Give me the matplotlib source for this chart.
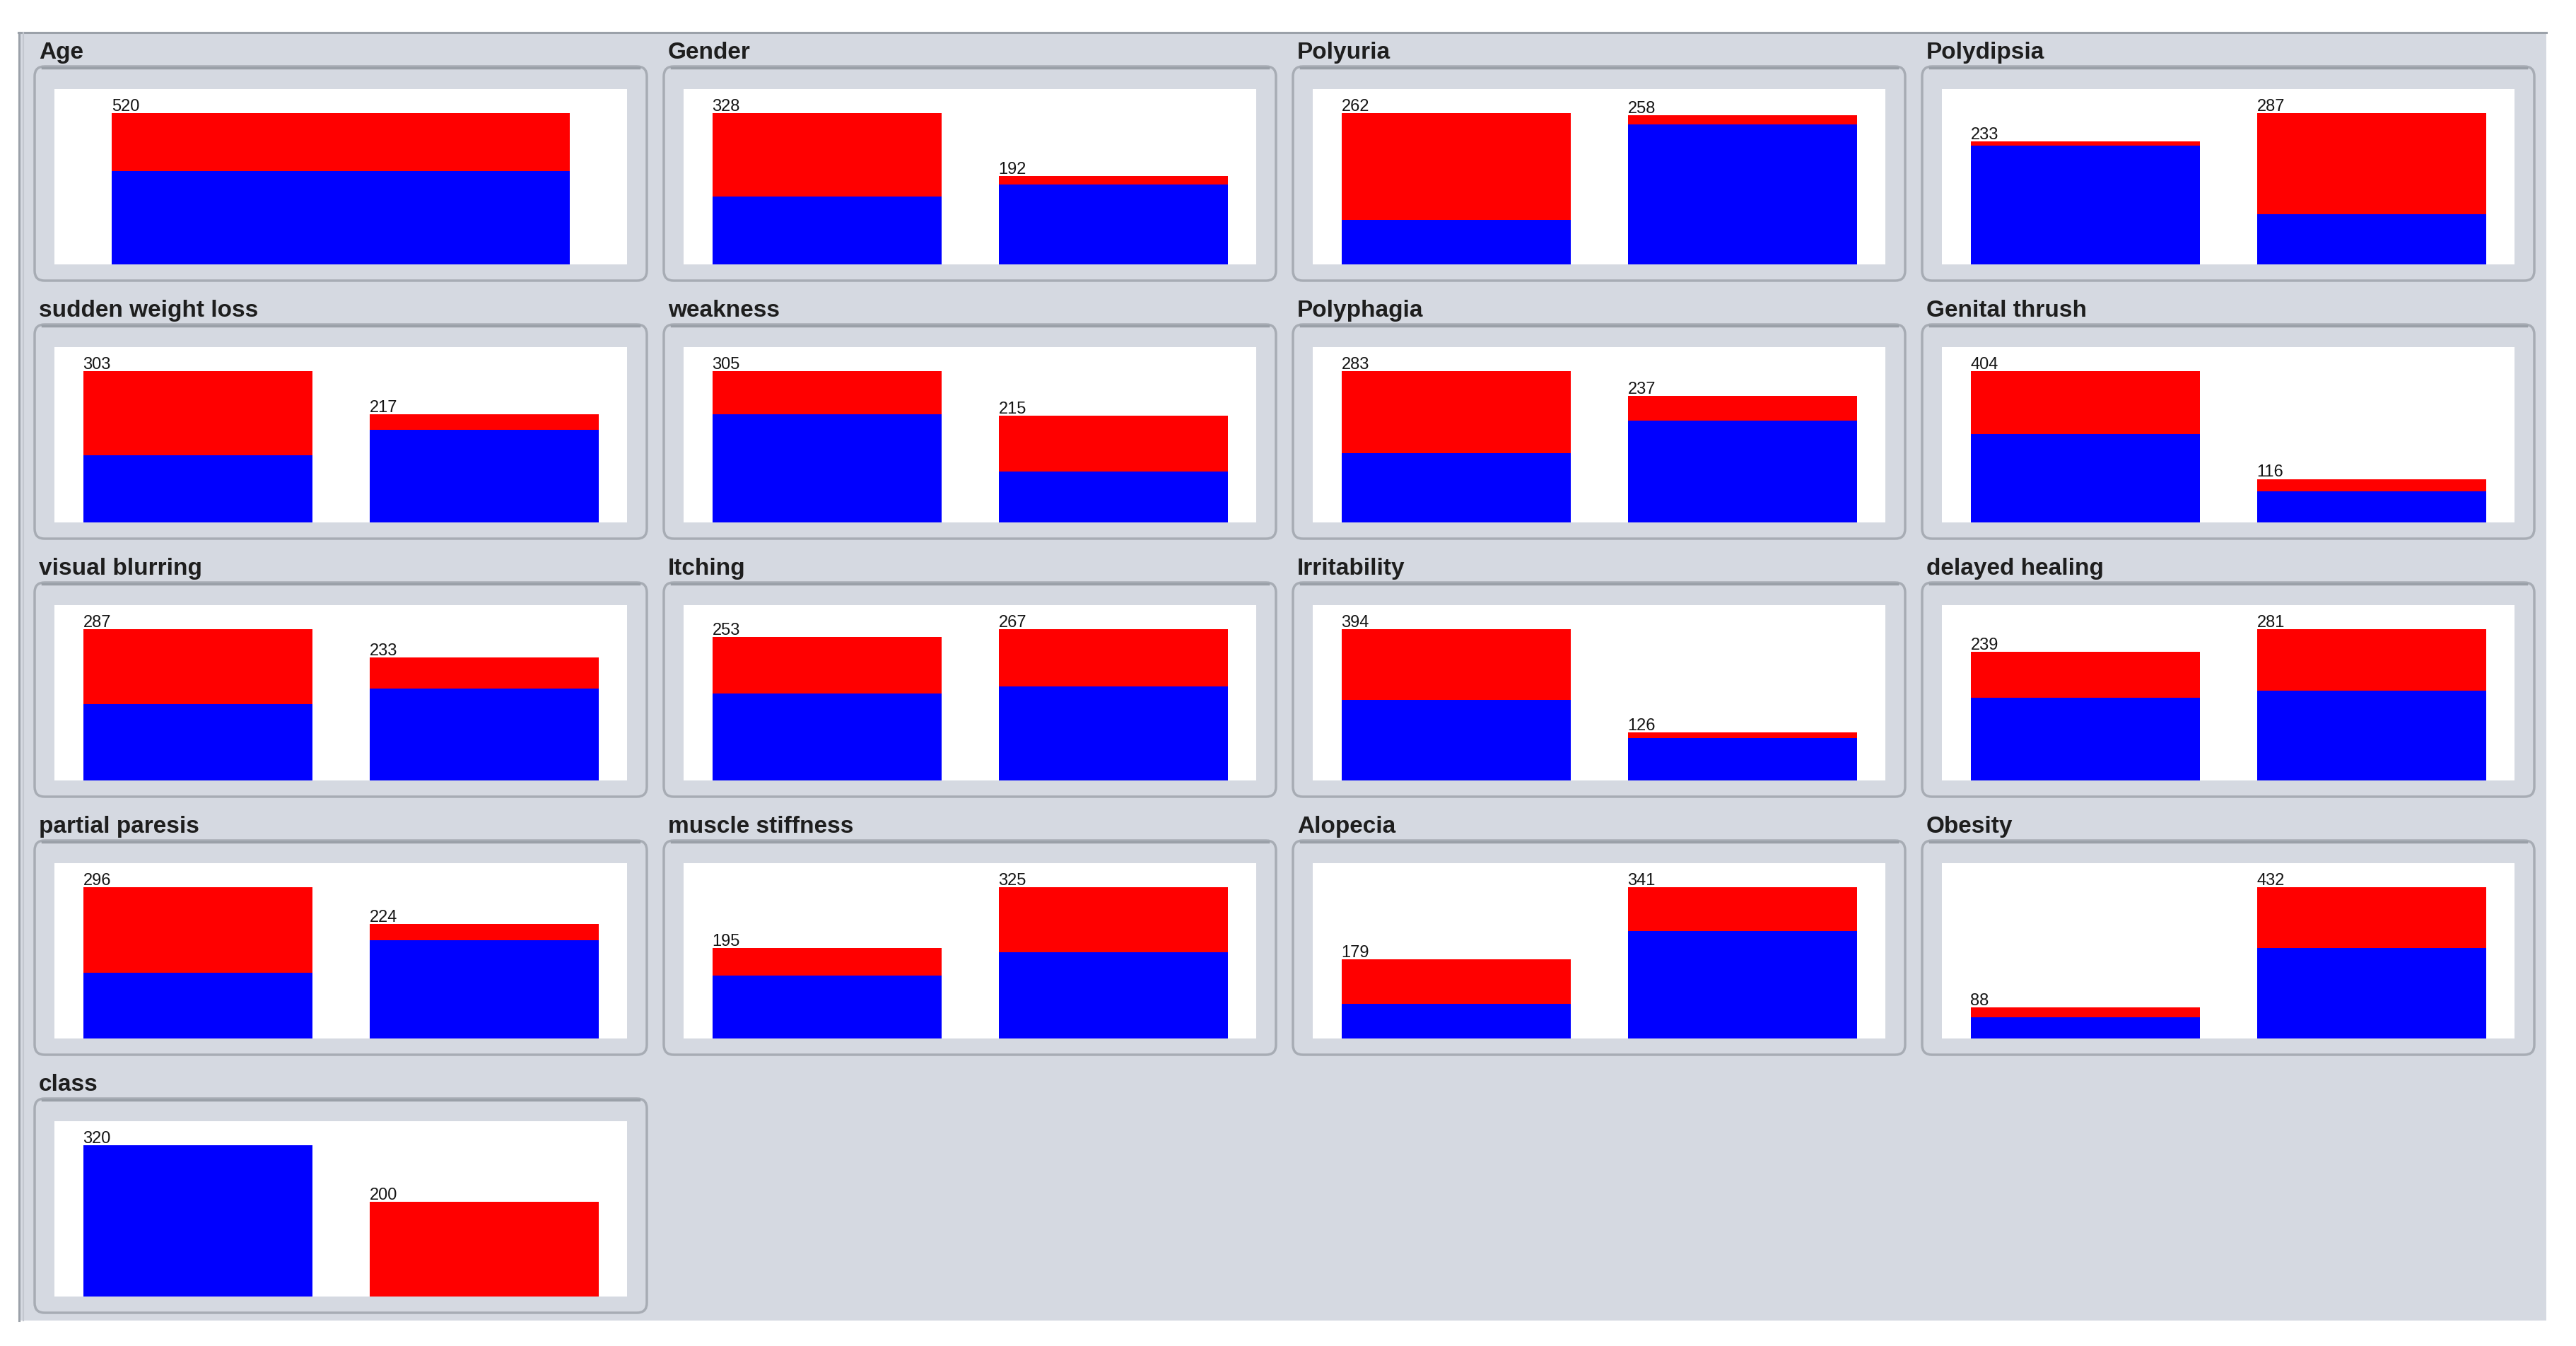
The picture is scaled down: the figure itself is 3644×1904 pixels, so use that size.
import matplotlib
matplotlib.use("Agg")
import matplotlib.pyplot as plt
import matplotlib.transforms as mtransforms
from matplotlib.patches import FancyBboxPatch, Rectangle

W, H = 3644, 1904

# attribute names, in panel order (4 columns)
attributes = [
    "Age", "Gender", "Polyuria", "Polydipsia",
    "sudden weight loss", "weakness", "Polyphagia", "Genital thrush",
    "visual blurring", "Itching", "Irritability", "delayed healing",
    "partial paresis", "muscle stiffness", "Alopecia", "Obesity",
    "class",
]

# class counts per bar: blue = Positive, red = Negative
positive = [
    [320], [147, 173], [77, 243], [225, 95],
    [134, 186], [218, 102], [130, 190], [236, 84],
    [145, 175], [154, 166], [210, 110], [153, 167],
    [128, 192], [135, 185], [78, 242], [61, 259],
    [320, 0],
]
negative = [
    [200], [181, 19], [185, 15], [8, 192],
    [169, 31], [87, 113], [153, 47], [168, 32],
    [142, 58], [99, 101], [184, 16], [86, 114],
    [168, 32], [60, 140], [101, 99], [27, 173],
    [0, 200],
]

BG = "#d5d9e1"
BLUE = "#0000ff"
RED = "#ff0000"

fig = plt.figure(figsize=(W / 100, H / 100), dpi=100)
fig.patch.set_facecolor("white")
px = mtransforms.IdentityTransform()


def fig_rect(x0, y0, x1, y1):
    # pixel box (top-left origin) -> display coords
    return x0, H - y1, x1 - x0, y1 - y0


# grey panel background
x, y, w, h = fig_rect(26, 46, 3602, 1868)
fig.patches.append(Rectangle((x, y), w, h, transform=px, facecolor=BG,
                             edgecolor="none", zorder=0))
fig.add_artist(plt.Line2D([26, 3602], [H - 46, H - 46], transform=px,
                          color="#9ba1a9", lw=2.2))
fig.add_artist(plt.Line2D([27, 27], [H - 46, H - 1868], transform=px,
                          color="#9ba1a9", lw=2.2))
fig.add_artist(plt.Line2D([33, 33], [H - 46, H - 1868], transform=px,
                          color="#c3c7cf", lw=1.5))

for i, name in enumerate(attributes):
    r, c = divmod(i, 4)
    dx, dy = 890 * c, 365 * r

    # rounded frame around the plot
    x, y, w, h = fig_rect(49 + dx, 94 + dy, 915 + dx, 397 + dy)
    fig.patches.append(FancyBboxPatch((x, y), w, h,
                                      boxstyle="round,pad=0,rounding_size=14",
                                      transform=px, facecolor=BG,
                                      edgecolor="#a7acb4", lw=2.5, zorder=1))
    fig.add_artist(plt.Line2D([60 + dx, 904 + dx], [H - 96 - dy, H - 96 - dy],
                              transform=px, color="#9aa0a8", lw=2.5))

    fig.text((55 + dx) / W, 1 - (83 + dy) / H, name, fontsize=24,
             fontweight="bold", family="Liberation Sans", color="#1e1e1e",
             ha="left", va="baseline")

    ax = fig.add_axes([(77 + dx) / W, 1 - (374 + dy) / H, 810 / W, 248 / H])
    ax.set_zorder(5)
    ax.set_facecolor("white")
    for s in ax.spines.values():
        s.set_visible(False)
    ax.set_xticks([])
    ax.set_yticks([])

    blue = positive[i]
    red = negative[i]
    totals = [b + rd for b, rd in zip(blue, red)]
    xs = list(range(len(totals)))
    ax.bar(xs, blue, width=0.8, color=BLUE, linewidth=0)
    ax.bar(xs, red, width=0.8, bottom=blue, color=RED, linewidth=0)
    for xi, t in zip(xs, totals):
        ax.annotate(str(t), xy=(xi - 0.4, t), xytext=(0, 2.2),
                    textcoords="offset points", ha="left", va="baseline",
                    fontsize=17, family="Liberation Sans", color="#151515")
    ax.set_xlim(-0.5, len(totals) - 0.5)
    ax.set_ylim(0, max(totals) * 248 / 214)

fig.savefig("out.png", dpi=100)
